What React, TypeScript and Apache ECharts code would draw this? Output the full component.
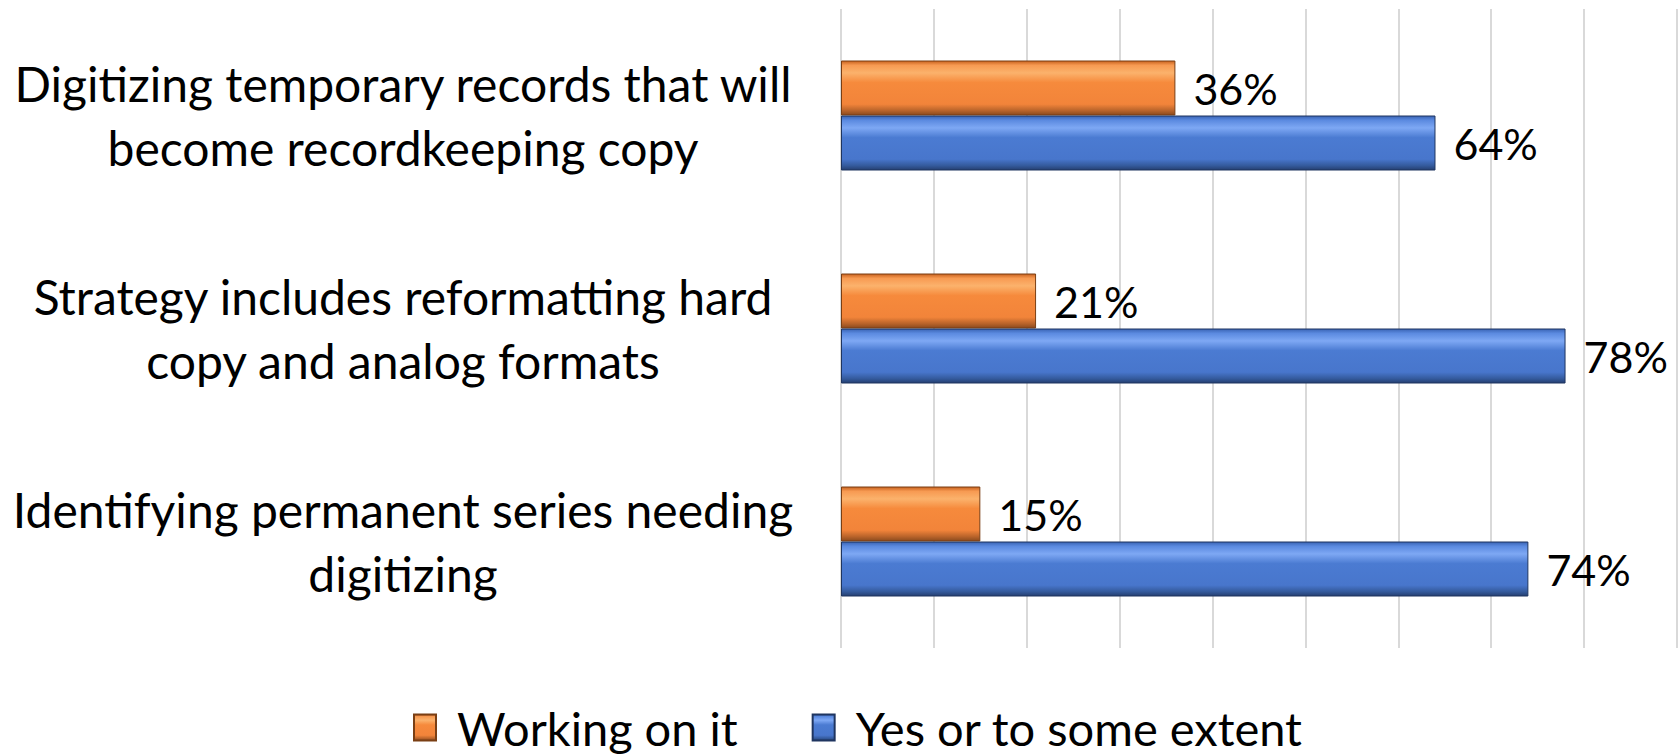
import React, { useEffect, useRef } from "react";
import * as echarts from "echarts";

const categories = [
  "Digitizing temporary records that will\nbecome recordkeeping copy",
  "Strategy includes reformatting hard\ncopy and analog formats",
  "Identifying permanent series needing\ndigitizing",
];
const workingOnIt = [36, 21, 15];
const yesOrSomeExtent = [64, 78, 74];
const seriesNames = ["Working on it", "Yes or to some extent"];

const FONT = "Lato";

const orangeGrad = new echarts.graphic.LinearGradient(0, 0, 0, 1, [
  { offset: 0, color: "#c8621f" },
  { offset: 0.08, color: "#f79a52" },
  { offset: 0.22, color: "#fbb26c" },
  { offset: 0.4, color: "#f68a3c" },
  { offset: 0.8, color: "#f2843a" },
  { offset: 0.92, color: "#b8632a" },
  { offset: 1, color: "#8a4a1e" },
]);
const blueGrad = new echarts.graphic.LinearGradient(0, 0, 0, 1, [
  { offset: 0, color: "#3a64b4" },
  { offset: 0.08, color: "#5b8ae0" },
  { offset: 0.22, color: "#7ea8f4" },
  { offset: 0.4, color: "#4b7bd2" },
  { offset: 0.8, color: "#4876cc" },
  { offset: 0.92, color: "#345a9c" },
  { offset: 1, color: "#253f70" },
]);

export default function App() {
  const ref = useRef<HTMLDivElement>(null);
  useEffect(() => {
    if (!ref.current) return;
    const chart = echarts.init(ref.current, null, { renderer: "svg" });
    const labelStyle = {
      show: true,
      position: "right" as const,
      distance: 18,
      formatter: "{c}%",
      fontFamily: FONT,
      fontSize: 43,
      color: "#000",
    };
    chart.setOption({
      animation: false,
      backgroundColor: "#ffffff",
      grid: { left: 841, right: 3, top: 9, bottom: 108, containLabel: false },
      legend: {
        data: seriesNames,
        bottom: 0,
        left: 408,
        icon: "rect",
        itemWidth: 22,
        itemHeight: 26,
        itemGap: 74,
        textStyle: { fontFamily: FONT, fontSize: 47, color: "#000", padding: [0, 0, 0, 16] },
      },
      xAxis: {
        type: "value",
        min: 0,
        max: 90,
        interval: 10,
        axisLabel: { show: false },
        axisLine: { show: false },
        axisTick: { show: false },
        splitLine: { show: true, lineStyle: { color: "#d9d9d9", width: 2 } },
      },
      yAxis: {
        type: "category",
        inverse: true,
        data: categories,
        axisLine: { show: false },
        axisTick: { show: false },
        axisLabel: {
          align: "center",
          margin: 438,
          fontFamily: FONT,
          fontSize: 48,
          lineHeight: 64,
          color: "#000",
        },
      },
      series: [
        {
          name: seriesNames[0],
          type: "bar",
          data: workingOnIt,
          barWidth: 55,
          barGap: "0%",
          itemStyle: { color: orangeGrad, borderColor: "#7a3f14", borderWidth: 1 },
          label: labelStyle,
        },
        {
          name: seriesNames[1],
          type: "bar",
          data: yesOrSomeExtent,
          barWidth: 55,
          barGap: "0%",
          itemStyle: { color: blueGrad, borderColor: "#1f3560", borderWidth: 1 },
          label: labelStyle,
        },
      ],
    });
    return () => chart.dispose();
  }, []);
  return (
    <div
      ref={ref}
      style={{ position: "absolute", left: 0, top: 0, width: 1680, height: 756 }}
    />
  );
}
